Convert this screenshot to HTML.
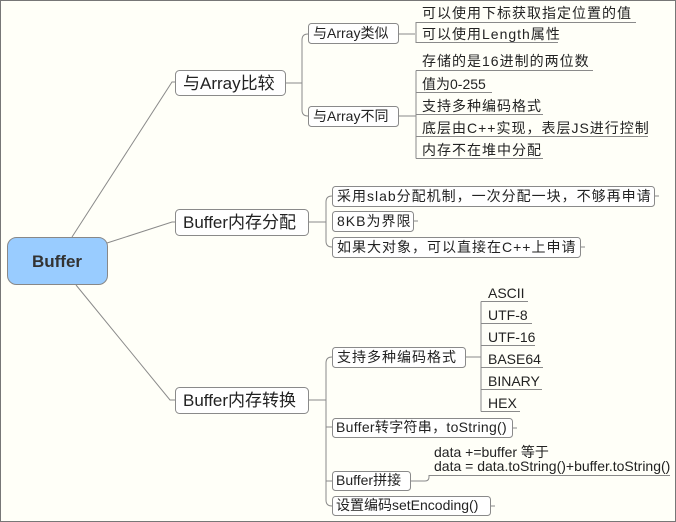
<!DOCTYPE html>
<html><head><meta charset="utf-8"><style>
html,body{margin:0;padding:0;background:#fffff8;}
svg{display:block}
text{font-family:"Liberation Sans","Noto Sans CJK SC",sans-serif;fill:#222;}
.b{fill:#fff;stroke:#8a8a8a;stroke-width:1}
.l{stroke:#8a8a8a;stroke-width:1;fill:none}
.t{font-size:14px}
.c{letter-spacing:1px}
.m{font-size:17px}
</style></head><body>
<svg width="676" height="522" viewBox="0 0 676 522" xmlns="http://www.w3.org/2000/svg">
<rect x="0.5" y="0.5" width="675" height="521" fill="#fffff8" stroke="#777" stroke-width="1"/>
<path class="l" d="M72 237 L172 82 L175 82"/>
<path class="l" d="M107 243 L172 222 L175 222"/>
<path class="l" d="M76 285 L170 400 L175 400"/>
<rect x="7.5" y="237.5" width="100" height="47" rx="9" fill="#99ccff" stroke="#888"/>
<text x="57" y="267" text-anchor="middle" style="font-size:17px;font-weight:bold;fill:#333">Buffer</text>

<rect class="b" x="175.5" y="70.5" width="110" height="25" rx="4"/>
<text class="m" x="183" y="89">与Array比较</text>
<rect class="b" x="175.5" y="209.5" width="133" height="26" rx="4"/>
<text class="m" x="183" y="228">Buffer内存分配</text>
<rect class="b" x="175.5" y="387.5" width="133" height="26" rx="4"/>
<text class="m" x="183" y="406">Buffer内存转换</text>

<path class="l" d="M286 83 L302 83 M308 34 Q302 34 302 40 L302 110 Q302 116 308 116"/>
<rect class="b" x="308.5" y="23.5" width="90" height="20" rx="3"/>
<text class="t" x="313" y="38">与Array类似</text>
<rect class="b" x="308.5" y="106.5" width="90" height="20" rx="3"/>
<text class="t" x="313" y="121">与Array不同</text>

<path class="l" d="M399 34 L415 34 M422 22.5 L416 22.5 L416 42.5 L558 42.5 M416 22.5 L636 22.5"/>
<text class="t c" x="422" y="18">可以使用下标获取指定位置的值</text>
<text class="t c" x="422" y="39">可以使用Length属性</text>

<path class="l" d="M399 116 L416 116 M416 70.5 L416 158.5 M416 70.5 L593 70.5 M416 92.5 L492 92.5 M416 114.5 L543 114.5 M416 136.5 L648 136.5 M416 158.5 L543 158.5"/>
<text class="t c" x="422" y="66">存储的是16进制的两位数</text>
<text class="t" x="422" y="89">值为0-255</text>
<text class="t c" x="422" y="111">支持多种编码格式</text>
<text class="t c" x="422" y="133">底层由C++实现，表层JS进行控制</text>
<text class="t c" x="422" y="155">内存不在堆中分配</text>

<path class="l" d="M309 222 L326 222 M332 196 Q326 196 326 202 L326 241 Q326 247 332 247"/>
<rect class="b" x="332.5" y="186.5" width="322" height="20" rx="3"/>
<text class="t c" x="337" y="201">采用slab分配机制，一次分配一块，不够再申请</text>
<path class="l" d="M655 196 L659 196"/>
<rect class="b" x="332.5" y="211.5" width="81" height="20" rx="3"/>
<text class="t c" x="337" y="226">8KB为界限</text>
<path class="l" d="M414 221 L418 221"/>
<rect class="b" x="332.5" y="237.5" width="248" height="20" rx="3"/>
<text class="t c" x="337" y="252">如果大对象，可以直接在C++上申请</text>
<path class="l" d="M581 247 L585 247"/>

<path class="l" d="M309 400 L326 400 M332 357 Q326 357 326 363 L326 500 Q326 506 332 506 M326 427 L332 427 M326 481 L332 481"/>
<rect class="b" x="332.5" y="347.5" width="133" height="20" rx="3"/>
<text class="t c" x="337" y="362">支持多种编码格式</text>
<rect class="b" x="332.5" y="418.5" width="180" height="19" rx="3"/>
<text class="t c" x="336" y="432" style="letter-spacing:0.3px">Buffer转字符串，toString()</text>
<path class="l" d="M513 428 L517 428"/>
<rect class="b" x="332.5" y="471.5" width="78" height="19" rx="3"/>
<text class="t" x="336" y="485">Buffer拼接</text>
<rect class="b" x="332.5" y="496.5" width="158" height="19" rx="3"/>
<text class="t" x="336" y="510">设置编码setEncoding()</text>
<path class="l" d="M491 506 L495 506"/>

<path class="l" d="M466 357 L481 357 M481 301.5 L481 411.5 M481 301.5 L528 301.5 M481 323.5 L532 323.5 M481 345.5 L535 345.5 M481 367.5 L543 367.5 M481 389.5 L542 389.5 M481 411.5 L520 411.5"/>
<text class="t" x="488" y="298">ASCII</text>
<text class="t" x="488" y="320">UTF-8</text>
<text class="t" x="488" y="342">UTF-16</text>
<text class="t" x="488" y="364">BASE64</text>
<text class="t" x="488" y="386">BINARY</text>
<text class="t" x="488" y="408">HEX</text>

<path class="l" d="M411 481 L425 481 Q429 481 429 477 L429 475.5 L670 475.5"/>
<text class="t" x="434" y="457">data +=buffer 等于</text>
<text class="t" x="434" y="471">data = data.toString()+buffer.toString()</text>
</svg>
</body></html>
